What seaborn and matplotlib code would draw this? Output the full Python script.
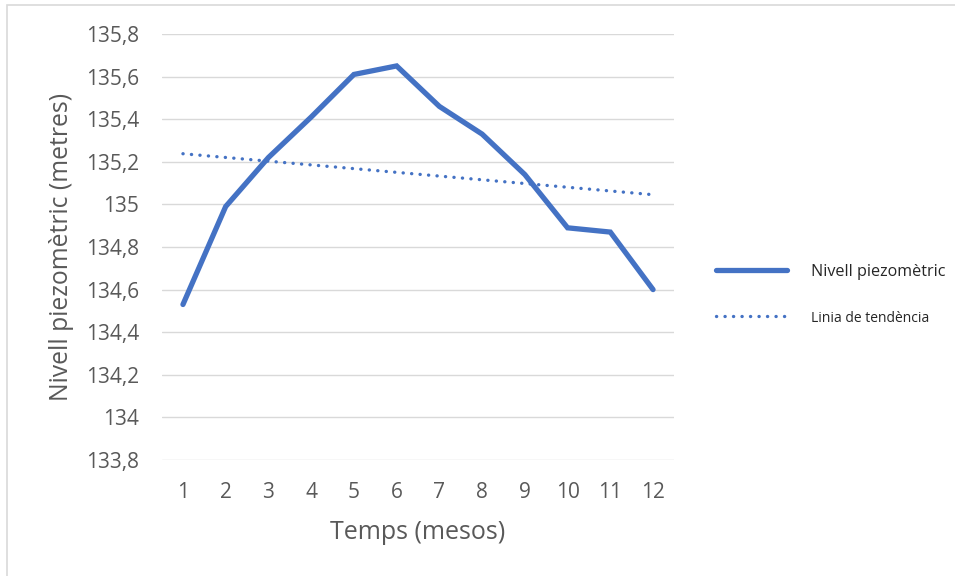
import numpy as np
import pandas as pd
import matplotlib
matplotlib.use("Agg")
import matplotlib.pyplot as plt
import seaborn as sns
from matplotlib.patches import Rectangle

# Monthly piezometric level readings
months = [1, 2, 3, 4, 5, 6, 7, 8, 9, 10, 11, 12]
level = [134.53, 134.99, 135.22, 135.41, 135.61, 135.65,
         135.46, 135.33, 135.14, 134.89, 134.87, 134.60]
y_ticks = [133.8, 134.0, 134.2, 134.4, 134.6, 134.8, 135.0, 135.2, 135.4, 135.6, 135.8]
y_tick_labels = ["133,8", "134", "134,2", "134,4", "134,6", "134,8",
                 "135", "135,2", "135,4", "135,6", "135,8"]

# Linear trend fitted to the readings
slope, intercept = np.polyfit(months, level, 1)
trend = [slope * m + intercept for m in months]

df = pd.DataFrame({"mes": months, "nivell": level, "tendencia": trend})

sns.set_theme(style="white")
plt.rcParams["font.family"] = ["Open Sans", "DejaVu Sans"]

BLUE = "#4472C4"
GREY_TXT = "#595959"

fig = plt.figure(figsize=(9.55, 5.76), dpi=100)
ax = fig.add_axes([0.1692, 0.2014, 0.5370, 0.7396])

sns.lineplot(data=df, x="mes", y="nivell", ax=ax, color=BLUE, lw=3.8,
             solid_capstyle="round", solid_joinstyle="miter",
             label="Nivell piezomètric", legend=False)
sns.lineplot(data=df, x="mes", y="tendencia", ax=ax, color=BLUE, lw=2.4,
             linestyle=(0, (0.05, 2.5)), dash_capstyle="round",
             label="Linia de tendència", legend=False)

ax.set_xlim(0.5, 12.5)
ax.set_ylim(133.8, 135.8)
ax.set_xticks(months)
ax.set_xticklabels([str(m) for m in months])
ax.set_yticks(y_ticks)
ax.set_yticklabels(y_tick_labels)

ax.grid(axis="y", color="#D9D9D9", lw=1.0)
ax.set_axisbelow(True)
for s in ax.spines.values():
    s.set_visible(False)

ax.tick_params(axis="both", length=0, labelsize=15, colors=GREY_TXT)
ax.tick_params(axis="y", pad=16)
ax.tick_params(axis="x", pad=16)

ax.set_xlabel("Temps (mesos)", fontsize=18, color=GREY_TXT, labelpad=12)
ax.set_ylabel("Nivell piezomètric (metres)", fontsize=17.8, color=GREY_TXT)
ax.yaxis.set_label_coords(-0.171, 0.5)

handles, labels = ax.get_legend_handles_labels()
leg = fig.legend(handles, labels, loc="center left",
                 bbox_to_anchor=(716 / 955, 0.488), frameon=False, fontsize=11.6,
                 handlelength=4.4, handletextpad=1.5, labelspacing=1.9,
                 borderpad=0, borderaxespad=0)
for t in leg.get_texts():
    t.set_color("#262626")
leg.get_texts()[1].set_fontsize(10)

# Chart-area outline
fig.patches.append(Rectangle((7 / 955, -0.1), 1.2, 1 - 5 / 576 + 0.1,
                             transform=fig.transFigure, fill=False,
                             edgecolor="#D9D9D9", lw=1.2))

fig.savefig("out.png", dpi=100)
